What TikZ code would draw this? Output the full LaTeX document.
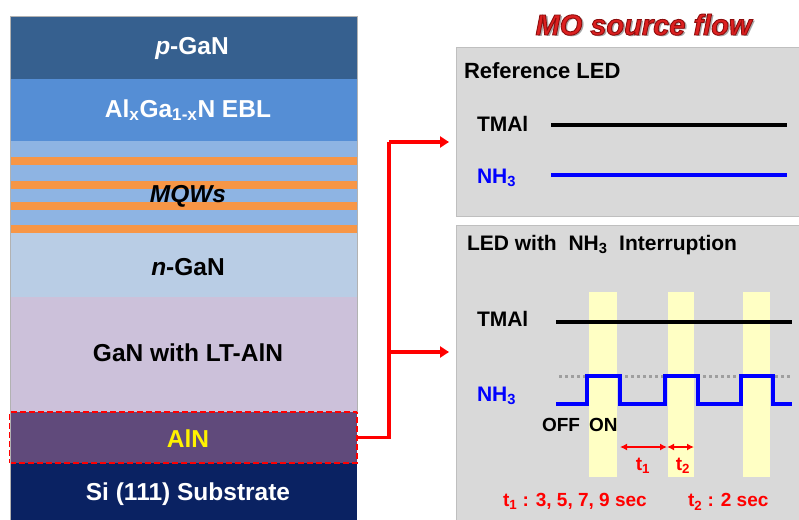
\documentclass[tikz,border=0pt]{standalone}
\usepackage{fontspec}
\setmainfont{Liberation Sans}
\usetikzlibrary{arrows.meta}
\definecolor{pganc}{HTML}{36608F}
\definecolor{eblc}{HTML}{558ED5}
\definecolor{mqwc}{HTML}{8EB4E3}
\definecolor{orangec}{HTML}{F79646}
\definecolor{nganc}{HTML}{B9CDE5}
\definecolor{ltc}{HTML}{CCC1DA}
\definecolor{alnc}{HTML}{604A7B}
\definecolor{sic}{HTML}{0A2262}
\definecolor{panelc}{HTML}{D9D9D9}
\definecolor{panelb}{HTML}{BFBFBF}
\definecolor{barc}{HTML}{FFFFC4}
\definecolor{redc}{HTML}{FF0000}
\definecolor{bluec}{HTML}{0000FF}
\definecolor{mored}{HTML}{DD2020}
\newcommand{\outlinedtext}[1]{\special{pdf:code q 0.55 0.05 0.05 RG 2 Tr 0.9 w}#1\special{pdf:code Q}}
\begin{document}
\begin{tikzpicture}[x=1pt,y=-1pt,
  every node/.style={inner sep=0pt, outer sep=0pt},
  layer/.style={rectangle, minimum width=347pt, draw=none},
  ltext/.style={anchor=base, font=\fontsize{24.5}{28}\selectfont\bfseries},
  ptext/.style={anchor=base west, font=\fontsize{21}{25}\selectfont\bfseries},
  rtext/.style={anchor=base, font=\fontsize{19}{23}\selectfont\bfseries, text=redc},
  panel/.style={rectangle, fill=panelc, draw=panelb, line width=1pt},
  redline/.style={draw=redc, line width=3.2pt},
  redarrow/.style={draw=redc, line width=3.2pt, -{Triangle[length=9pt,width=11pt]}},
  tarrow/.style={draw=redc, line width=2.2pt, {Latex[length=7pt,width=7pt]}-{Latex[length=7pt,width=7pt]}},
  tmalline/.style={draw=black, line width=4pt},
  nhline/.style={draw=bluec, line width=3.6pt},
  bar/.style={fill=barc}
]
\useasboundingbox (0,0) rectangle (799,519);
\fill[white] (0,0) rectangle (799,519);

% ---------- layer stack ----------
\node[layer, fill=pganc, minimum height=63pt] (pgan) at (183.5,47.5) {};
\node[layer, fill=eblc, minimum height=62pt] (ebl) at (183.5,110) {};
\node[layer, fill=mqwc, minimum height=92pt] (mqw) at (183.5,187) {};
\fill[orangec] (10,157) rectangle (357,165);
\fill[orangec] (10,181) rectangle (357,189);
\fill[orangec] (10,202) rectangle (357,210);
\fill[orangec] (10,225) rectangle (357,233);
\node[layer, fill=nganc, minimum height=64pt] (ngan) at (183.5,265) {};
\node[layer, fill=ltc, minimum height=115pt] (lt) at (183.5,354.5) {};
\node[layer, fill=sic, minimum height=58pt] (si) at (183.5,492) {};
\node[layer, fill=alnc, minimum height=51pt, draw=redc, dash pattern=on 6pt off 3pt, line width=2.6pt] (aln) at (183.5,437.5) {};
\draw[gray!60, line width=0.6pt] (10,521) -- (10,16) -- (357,16) -- (357,412);

\node[ltext, text=white] (tpgan) at (192,54.5) {\textit{p}-GaN};
\node[ltext, text=white] (tebl) at (188,117) {Al\textsubscript{x}Ga\textsubscript{1-x}N EBL};
\node[ltext, text=black] (tmqw) at (188,202) {\textit{MQWs}};
\node[ltext, text=black] (tngan) at (188,275) {\textit{n}-GaN};
\node[ltext, text=black] (tlt) at (188,361) {GaN with LT-AlN};
\node[ltext, text=yellow] (taln) at (188,447) {AlN};
\node[ltext, text=white] (tsi) at (188,500.5) {Si (111) Substrate};

% ---------- title ----------
\node[anchor=base, font=\fontsize{29}{33}\selectfont\bfseries\itshape, text=black!35] (mosh) at (645.5,37) {MO source flow};
\node[anchor=base, font=\fontsize{29}{33}\selectfont\bfseries\itshape, text=mored] (mos) at (643.5,35) {\outlinedtext{MO source flow}};

% ---------- panels ----------
\node[panel, minimum width=344pt, minimum height=168pt] (box1) at (628,132) {};
\node[panel, minimum width=344pt, minimum height=296pt] (box2) at (628,373) {};

\node[ptext, font=\fontsize{22}{26}\selectfont\bfseries] (reft) at (464,78.3) {Reference LED};
\node[ptext] (tm1) at (477,131.7) {TMAl};
\node[ptext, text=bluec] (nh1) at (477,183.3) {NH\textsubscript{3}};
\coordinate (tm1a) at (551,125);
\coordinate (tm1b) at (787,125);
\coordinate (nh1a) at (551,175);
\coordinate (nh1b) at (787,175);
\draw[tmalline, line width=3.6pt] (tm1a) -- (tm1b);
\draw[nhline, line width=3.2pt] (nh1a) -- (nh1b);

\node[ptext] (int) at (467,250) {LED with\ \ NH\textsubscript{3}\ \ Interruption};

% yellow bars
\fill[bar] (589,292) rectangle (617,477);
\fill[bar] (668,292) rectangle (694,477);
\fill[bar] (743,292) rectangle (770,477);

\node[ptext] (tm2) at (477,326.7) {TMAl};
\node[ptext, text=bluec] (nh2) at (477,401.7) {NH\textsubscript{3}};
\coordinate (tm2a) at (556,322);
\coordinate (tm2b) at (792,322);
\draw[tmalline] (tm2a) -- (tm2b);
\draw[gray!75, line width=3pt, dash pattern=on 3pt off 3pt] (559,376) -- (792,376);
\draw[nhline, line width=4pt] (556,404) -- (587,404) -- (587,376) -- (620,376) -- (620,404)
  -- (665,404) -- (665,376) -- (698,376) -- (698,404) -- (741,404) -- (741,376)
  -- (773,376) -- (773,404) -- (792,404);

\node[anchor=base west, font=\fontsize{19}{23}\selectfont\bfseries] (off) at (542,431.7) {OFF};
\node[anchor=base west, font=\fontsize{19}{23}\selectfont\bfseries] (on) at (589,431.7) {ON};

\coordinate (ta) at (620,447);
\coordinate (tb) at (667,447);
\coordinate (tc) at (694,447);
\draw[tarrow] (ta) -- (tb);
\draw[tarrow] (tb) -- (tc);
\node[rtext] (t1) at (643,470) {t\textsubscript{1}};
\node[rtext] (t2) at (683,470) {t\textsubscript{2}};
\node[rtext, anchor=base west] (t1v) at (503,506.7) {t\textsubscript{1} : 3, 5, 7, 9 sec};
\node[rtext, anchor=base west] (t2v) at (688,506.7) {t\textsubscript{2} : 2 sec};

% ---------- connectors ----------
\coordinate (jb) at (389,437.5);
\coordinate (j1) at (389,142);
\coordinate (j2) at (389,352);
\draw[redline, line join=miter] (aln.east) -- (jb) -- (j1);
\draw[redarrow, shorten >=7pt] (j1) -- (box1.west |- j1);
\draw[redarrow, shorten >=7pt] (j2) -- (box2.west |- j2);
\end{tikzpicture}
\end{document}
